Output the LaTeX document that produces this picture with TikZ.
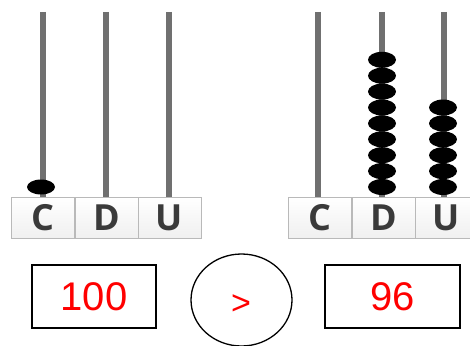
\documentclass[tikz,border=0pt]{standalone}
\usepackage{fontspec}
\setmainfont{Liberation Sans}
\newfontfamily\lblfont{Open Sans}
\usetikzlibrary{shapes.geometric}
\definecolor{rodgray}{HTML}{707070}
\definecolor{lettergray}{HTML}{3A3A3A}
\begin{document}
\begin{tikzpicture}[x=1pt,y=-1pt,
  rod/.style={line width=6.5pt, draw=rodgray},
  bead/.style={ellipse, fill=black, minimum width=28pt, minimum height=16pt, inner sep=0pt},
  lbl/.style={draw=gray!55, line width=0.8pt, top color=white, bottom color=gray!12, minimum width=63pt, minimum height=41pt, inner sep=0pt, font=\lblfont\bfseries\fontsize{36}{36}\selectfont, text=lettergray},
  numbox/.style={draw=black, line width=1.3pt, minimum height=63pt, inner sep=0pt, text=red, font=\fontsize{40}{40}\selectfont},
  cmp/.style={ellipse, draw=black, line width=1.3pt, minimum width=101pt, minimum height=92pt, inner sep=0pt}]
\useasboundingbox (0,0) rectangle (470,345);
\clip (0,0) rectangle (470,345);
% left abacus
\coordinate (lCt) at (43,12);  \coordinate (lCb) at (43,198);
\coordinate (lDt) at (106,12); \coordinate (lDb) at (106,198);
\coordinate (lUt) at (169,12); \coordinate (lUb) at (169,198);
\draw[rod] (lCt) -- (lCb);
\draw[rod] (lDt) -- (lDb);
\draw[rod] (lUt) -- (lUb);
\node[bead, minimum height=15pt] (lc1) at (41,187) {};
\node[lbl] (lC) at (43,218) {C};
\node[lbl] (lD) at (106.5,218) {D};
\node[lbl] (lU) at (169.5,218) {U};
% right abacus
\coordinate (rCt) at (318,12); \coordinate (rCb) at (318,198);
\coordinate (rDt) at (382,12); \coordinate (rDb) at (382,198);
\coordinate (rUt) at (444,12); \coordinate (rUb) at (444,198);
\draw[rod] (rCt) -- (rCb);
\draw[rod] (rDt) -- (rDb);
\draw[rod] (rUt) -- (rUb);
\foreach \k in {0,...,8}{
  \node[bead] (rd\k) at (382,{187-15.9*\k}) {};
}
\foreach \k in {0,...,5}{
  \node[bead] (ru\k) at (443,{187-15.9*\k}) {};
}
\node[lbl] (rC) at (319.5,218) {C};
\node[lbl] (rD) at (383.5,218) {D};
\node[lbl] (rU) at (446.5,218) {U};
% comparison
\node[numbox, minimum width=124pt] (n1) at (94,296.5) {100};
\node[numbox, minimum width=135pt] (n2) at (392.5,296.5) {96};
\node[cmp] (c) at (241.5,300) {};
\node[text=red, font=\fontsize{34}{34}\selectfont, inner sep=0pt] (gt) at (241,305) {>};
\end{tikzpicture}
\end{document}
